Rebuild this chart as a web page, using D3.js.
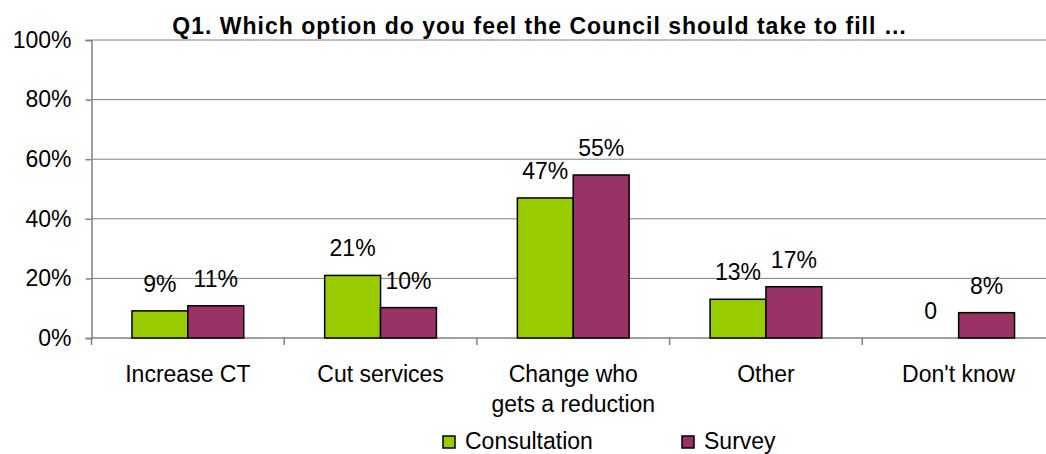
<!DOCTYPE html>
<html lang="en">
<head>
  <meta charset="UTF-8">
  <title>Q1 chart</title>
  <script src="https://d3js.org/d3.v7.min.js"></script>
  <style>
    body { margin: 0; background: white; }
    text { font-family: "Liberation Sans", Arial, sans-serif; fill: black; }
    .grid line { stroke: #808080; stroke-width: 1px; }
    .bar { stroke: black; stroke-width: 1.5px; }
  </style>
</head>
<body>
  <svg id="chart" width="1046" height="454"></svg>
  <script>
    // data
    const categories = [["Increase CT"], ["Cut services"], ["Change who", "gets a reduction"], ["Other"], ["Don't know"]];
    const series = ["Consultation", "Survey"];
    const colors = ["#99CC00", "#993366"];
    const consultation = [0.091, 0.21, 0.47, 0.13, 0];
    const survey = [0.108, 0.102, 0.547, 0.172, 0.085];
    const consultationLabels = ["9%", "21%", "47%", "13%", "0"];
    const surveyLabels = ["11%", "10%", "55%", "17%", "8%"];
    const yTicks = [0, 0.2, 0.4, 0.6, 0.8, 1];

    const svg = d3.select("#chart");
    const plotLeft = 91.5, plotRight = 1055, plotTop = 40, plotBottom = 338;

    const x0 = d3.scaleBand().domain(d3.range(categories.length)).range([plotLeft, plotRight]);
    const groupW = x0.bandwidth() * 0.58;
    const x1 = d3.scaleBand().domain(series).range([0, groupW]);
    const y = d3.scaleLinear().domain([0, 1]).range([plotBottom, plotTop]);

    // gridlines
    svg.append("g").attr("class", "grid")
      .selectAll("line").data(yTicks.slice(1)).join("line")
      .attr("x1", plotLeft).attr("x2", plotRight)
      .attr("y1", d => y(d)).attr("y2", d => y(d));

    // y axis
    const yAxis = svg.append("g")
      .attr("transform", "translate(" + plotLeft + ",0)")
      .call(d3.axisLeft(y).tickValues(yTicks).tickFormat(d3.format(".0%")).tickSize(6).tickPadding(14));
    yAxis.selectAll("path, line").attr("stroke", "#808080").attr("stroke-width", 1.5);
    yAxis.selectAll("text").style("font-size", "23px").attr("fill", "black")
      .style("font-family", "'Liberation Sans', Arial, sans-serif");

    // x axis line and ticks between categories
    svg.append("line")
      .attr("x1", plotLeft).attr("x2", plotRight).attr("y1", plotBottom).attr("y2", plotBottom)
      .attr("stroke", "#808080").attr("stroke-width", 1.5);
    svg.append("g").selectAll("line")
      .data(d3.range(categories.length + 1)).join("line")
      .attr("x1", d => plotLeft + d * x0.bandwidth()).attr("x2", d => plotLeft + d * x0.bandwidth())
      .attr("y1", plotBottom).attr("y2", plotBottom + 7)
      .attr("stroke", "#808080").attr("stroke-width", 1.5);

    // bars
    const rows = categories.map((c, i) => [
      { s: series[0], v: consultation[i], label: consultationLabels[i], i: i },
      { s: series[1], v: survey[i], label: surveyLabels[i], i: i }
    ]);
    const groups = svg.append("g").selectAll("g").data(rows).join("g")
      .attr("transform", (d, i) => "translate(" + (x0(i) + x0.bandwidth() / 2 - groupW / 2) + ",0)");

    groups.selectAll("rect").data(d => d.filter(e => e.v > 0)).join("rect")
      .attr("class", "bar")
      .attr("x", d => x1(d.s))
      .attr("y", d => y(d.v))
      .attr("width", x1.bandwidth())
      .attr("height", d => y(0) - y(d.v))
      .attr("fill", d => colors[series.indexOf(d.s)]);

    groups.selectAll("text").data(d => d).join("text")
      .attr("x", d => x1(d.s) + x1.bandwidth() / 2)
      .attr("y", d => y(d.v) - 19)
      .attr("text-anchor", "middle")
      .style("font-size", "23px")
      .text(d => d.label);

    // category labels
    svg.append("g").selectAll("text").data(categories).join("text")
      .attr("text-anchor", "middle")
      .attr("x", (d, i) => x0(i) + x0.bandwidth() / 2)
      .attr("y", 382)
      .style("font-size", "23px")
      .selectAll("tspan").data(d => d).join("tspan")
      .attr("x", function () { return d3.select(this.parentNode).attr("x"); })
      .attr("dy", (d, i) => i === 0 ? 0 : 30)
      .text(d => d);

    // title
    svg.append("text")
      .attr("x", 540).attr("y", 34)
      .attr("text-anchor", "middle")
      .style("font-size", "23px").style("font-weight", "bold")
      .style("letter-spacing", "1px")
      .text("Q1. Which option do you feel the Council should take to fill \u2026");

    // legend
    const legendX = [443, 682];
    const legend = svg.append("g").selectAll("g").data(series).join("g")
      .attr("transform", (d, i) => "translate(" + legendX[i] + ",436)");
    legend.append("rect")
      .attr("width", 12).attr("height", 12)
      .attr("fill", (d, i) => colors[i])
      .attr("stroke", "black").attr("stroke-width", 1.5);
    legend.append("text")
      .attr("x", 22).attr("y", 13)
      .style("font-size", "23px")
      .text(d => d);
  </script>
</body>
</html>
